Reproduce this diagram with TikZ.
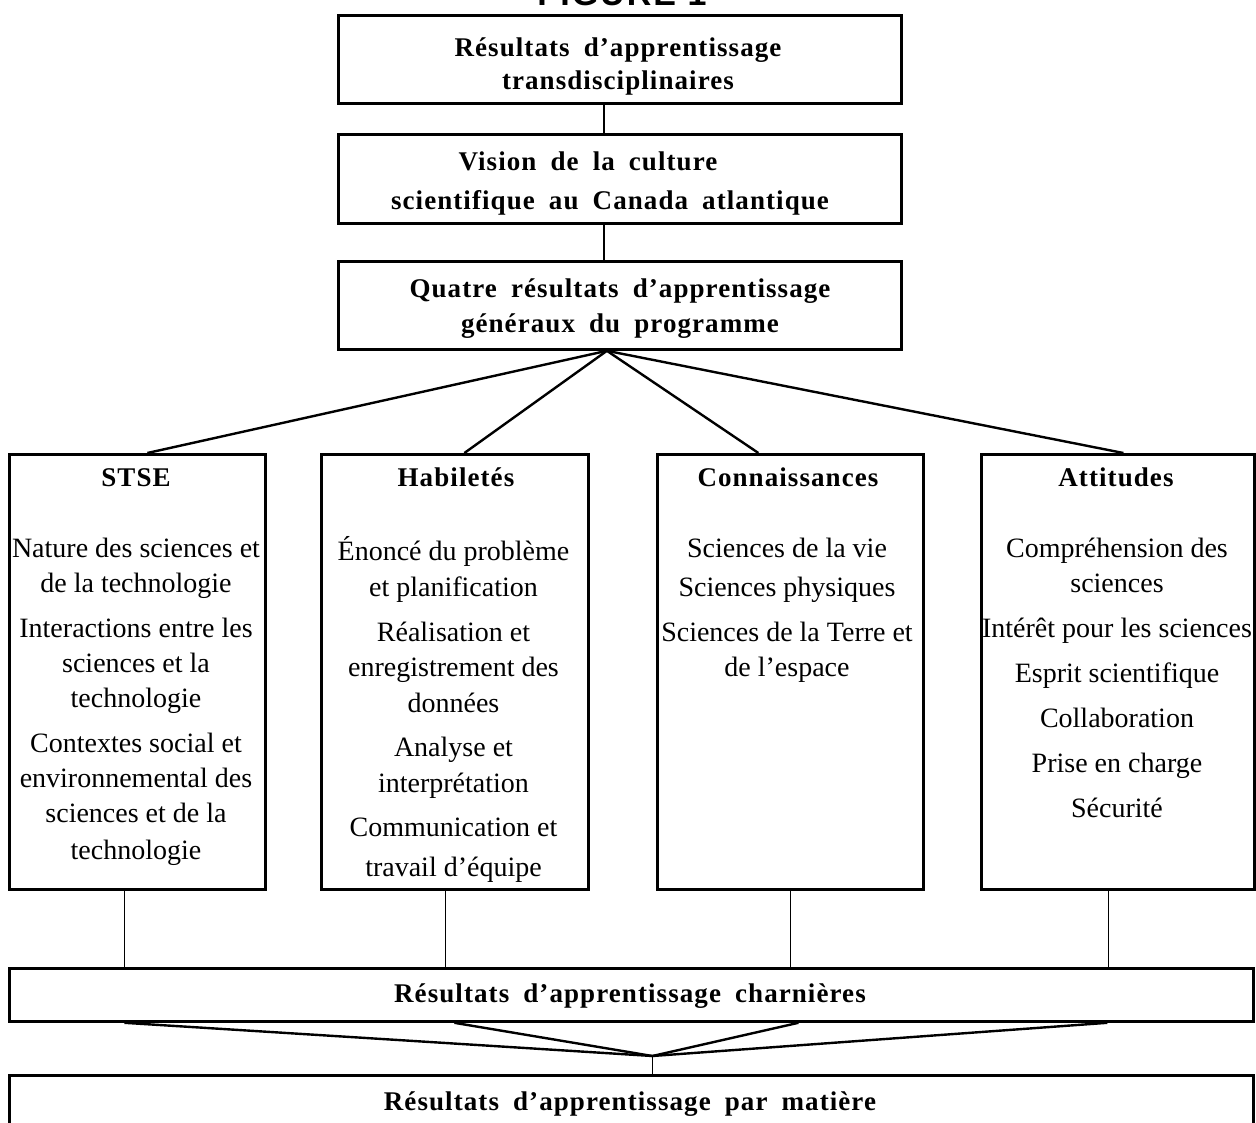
\documentclass[tikz,border=0pt]{standalone}
\usepackage{fontspec}
\setmainfont{Liberation Serif}
\newfontfamily\hdfont[LetterSpace=4,WordSpace=1.8]{Liberation Serif}
\newfontfamily\figfont[LetterSpace=6]{Liberation Sans}
\usetikzlibrary{calc}
\tikzset{
  box/.style={draw, line width=2.8pt, inner sep=0pt},
  conn/.style={line width=2.4pt},
  thinconn/.style={line width=1.6pt},
  txt/.style={font=\fontsize{28}{35}\selectfont, inner sep=0pt, anchor=base},
  hd/.style={font=\hdfont\bfseries\fontsize{27}{34}\selectfont, inner sep=0pt, anchor=base},
}
\begin{document}
\begin{tikzpicture}[x=1pt,y=-1pt]
\fill[white] (0,0) rectangle (1256,1123);
\useasboundingbox (0,0) rectangle (1256,1123);
% figure title (cut at top)
\node[font=\figfont\bfseries\fontsize{34}{40}\selectfont, inner sep=0pt, anchor=base] (fig) at (622,6) {FIGURE 1};
% top boxes
\node[box, anchor=north west, minimum width=563pt, minimum height=88pt] (b1) at (337,14) {};
\node[box, anchor=north west, minimum width=563pt, minimum height=89pt] (b2) at (337,133) {};
\node[box, anchor=north west, minimum width=563pt, minimum height=88pt] (b3) at (337,260) {};
\node[hd] (b1a) at (618,57) {Résultats d’apprentissage};
\node[hd] (b1b) at (618,90) {transdisciplinaires};
\node[hd] (b2a) at (588,171) {Vision de la culture};
\node[hd] (b2b) at (610,210) {scientifique au Canada atlantique};
\node[hd] (b3a) at (620,298) {Quatre résultats d’apprentissage};
\node[hd] (b3b) at (620,333) {généraux du programme};
% columns
\node[box, anchor=north west, minimum width=256pt, minimum height=435pt] (stse) at (8,453) {};
\node[box, anchor=north west, minimum width=267pt, minimum height=435pt] (hab) at (320,453) {};
\node[box, anchor=north west, minimum width=266pt, minimum height=435pt] (con) at (656,453) {};
\node[box, anchor=north west, minimum width=273pt, minimum height=435pt] (att) at (980,453) {};
\node[hd] (t1) at (136,486) {STSE};
\node[hd] (t2) at (456,486) {Habiletés};
\node[hd] (t3) at (788,486) {Connaissances};
\node[hd] (t4) at (1116,486) {Attitudes};
\foreach \t/\y [count=\i] in {Nature des sciences et/557, de la technologie/592, Interactions entre les/637, sciences et la/672, technologie/707, Contextes social et/752, environnemental des/787, sciences et de la/822, technologie/859}
  \node[txt] (sl\i) at (136,\y) {\t};
\foreach \t/\y [count=\i] in {Énoncé du problème/560, et planification/596, Réalisation et/641, enregistrement des/676, données/712, Analyse et/756, interprétation/792, Communication et/836, travail d’équipe/876}
  \node[txt] (hl\i) at (453.5,\y) {\t};
\foreach \t/\y [count=\i] in {Sciences de la vie/557, Sciences physiques/596, Sciences de la Terre et/641, de l’espace/676}
  \node[txt] (cl\i) at (787,\y) {\t};
\foreach \t/\y [count=\i] in {Compréhension des/557, sciences/592, Intérêt pour les sciences/637, Esprit scientifique/682, Collaboration/727, Prise en charge/772, Sécurité/817}
  \node[txt] (al\i) at (1117,\y) {\t};
% bottom boxes
\node[box, anchor=north west, minimum width=1244pt, minimum height=53pt] (ch) at (8,967) {};
\node[box, anchor=north west, minimum width=1244pt, minimum height=80pt] (bot) at (8,1074) {};
\node[hd] (cht) at (630,1002) {Résultats d’apprentissage charnières};
\node[hd] (bott) at (630,1110) {Résultats d’apprentissage par matière};
% connectors top
\coordinate (k1) at ($(b1.south)+(-16,0)$);
\draw[conn] (k1) -- (k1 |- b2.north);
\draw[conn] (k1 |- b2.south) -- (k1 |- b3.north);
\coordinate (ap) at ($(b3.south)+(-13,0)$);
\draw[conn] (ap) -- ($(stse.north)+(10,0)$);
\draw[conn] (ap) -- ($(hab.north)+(9.5,0)$);
\draw[conn] (ap) -- ($(con.north)+(-32,0)$);
\draw[conn] (ap) -- ($(att.north)+(5.5,0)$);
% column to charnieres
\coordinate (v1) at ($(stse.south)+(-13,0)$);
\coordinate (v2) at ($(hab.south)+(-9.5,0)$);
\coordinate (v3) at (con.south);
\coordinate (v4) at ($(att.south)+(-9.5,0)$);
\foreach \v in {v1,v2,v3,v4} \draw[thinconn] (\v) -- (\v |- ch.north);
% lower fan
\coordinate (ap2) at ($(bot.north)+(21,-18)$);
\draw[conn] (v1 |- ch.south) -- (ap2);
\draw[conn] ($(v2 |- ch.south)+(9,0)$) -- (ap2);
\draw[conn] ($(v3 |- ch.south)+(8,0)$) -- (ap2);
\draw[conn] ($(v4 |- ch.south)+(-1,0)$) -- (ap2);
\draw[thinconn] (ap2) -- (ap2 |- bot.north);
\end{tikzpicture}
\end{document}
